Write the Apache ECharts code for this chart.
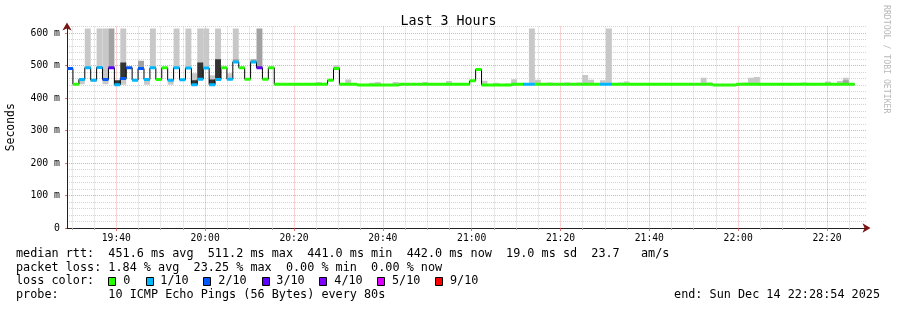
<!DOCTYPE html>
<html><head><meta charset="utf-8">
<script src="https://cdn.jsdelivr.net/npm/echarts@6/dist/echarts.min.js"></script>
<style>html,body{margin:0;padding:0;background:#fff}#c{width:897px;height:310px}</style>
</head><body><div id="c"></div>
<script>
// ---------------- data ----------------
const chartTitle = 'Last 3 Hours';
const yAxisName = 'Seconds';
const startTime = [2025, 11, 14, 19, 28, 54];   // local time, month index 11 = Dec
const stepSeconds = 80;
const spanHours = 3;

// median RTT per 80 s step (ms)
const medianMs = [
  491,442,457,493,455,494,457,493,441,460,
  493,455,491,457,493,457,493,455,493,456,
  492,441,458,492,441,457,493,458,511,493,
  458,511,493,458,493,442,442,442,442,442,
  442,442,442,442,455,491,442,442,442,440,
  440,440,440,440,440,440,442,442,442,442,
  442,442,442,442,442,442,442,442,453,488,
  440,440,440,440,440,442,442,442,442,442,
  442,442,442,442,442,442,442,442,442,442,
  442,442,442,442,442,442,442,442,442,442,
  442,442,442,442,442,442,442,442,442,440,
  440,440,440,442,442,442,442,442,442,442,
  442,442,442,442,442,442,442,442,442,442,
  442,442,442
];
// lost pings (out of 10) per step
const lossCount = [
  2,0,1,1,1,1,2,3,1,2,
  2,1,2,1,1,0,0,1,1,1,
  1,1,1,1,1,1,0,1,1,0,
  0,1,3,0,0,0,0,0,0,0,
  0,0,0,0,0,0,0,0,0,0,
  0,0,0,0,0,0,0,0,0,0,
  0,0,0,0,0,0,0,0,0,0,
  0,0,0,0,0,0,0,1,1,0,
  0,0,0,0,0,0,0,0,0,0,
  1,1,0,0,0,0,0,0,0,0,
  0,0,0,0,0,0,0,0,0,0,
  0,0,0,0,0,0,0,0,0,0,
  0,0,0,0,0,0,0,0,0,0,
  0,0,0
];
// smoke bands: [step, low ms, high ms]
const smokeLight = [
  [2,442,457],[3,493,614],[4,450,455],[5,494,614],[6,442,614],[9,441,614],
  [13,441,457],[14,493,614],[17,441,455],[18,493,614],[20,493,614],[21,441,476],
  [22,458,614],[23,492,614],[24,441,470],[25,457,614],[27,458,476],[28,510,614],
  [42,442,449],[45,491,501],[47,442,457],[51,440,447],[52,440,449],[55,440,449],
  [60,442,449],[64,442,452],[70,440,453],[72,440,447],[74,440,445],[75,442,458],
  [78,442,614],[79,442,456],[81,442,448],[84,442,448],[85,442,445],[86,442,448],
  [87,442,471],[88,442,456],[90,442,455],[91,442,614],[93,442,448],[94,442,451],
  [100,442,446],[101,442,446],[106,442,446],[107,442,462],[108,442,448],
  [113,442,446],[114,442,448],[115,442,462],[116,442,465],[121,442,446],
  [122,442,446],[124,442,448],[127,442,446],[128,442,451],[130,442,452],[131,442,462]
];
const smokeMid = [
  [7,493,614],[12,491,515],[28,510,519],[31,509,519],[32,493,614],[128,442,447],[131,442,455]
];
const smokeDark = [
  [8,442,455],[9,462,509],[21,442,455],[22,461,509],[24,442,457],[25,461,519]
];
const xTickLabels = ['19:40','20:00','20:20','20:40','21:00','21:20','21:40','22:00','22:20'];
const xMinorStepMinutes = 5;
const yTicks = [0,100,200,300,400,500,600];
const yMinorStep = 20;
const yMax = 620;
const lossLabels = ['0','1/10','2/10','3/10','4/10','5/10','9/10'];
const lossLevels = [0,1,2,3,4,5,9];
const statsLines = [
  'median rtt:  451.6 ms avg  511.2 ms max  441.0 ms min  442.0 ms now  19.0 ms sd  23.7   am/s',
  'packet loss: 1.84 % avg  23.25 % max  0.00 % min  0.00 % now',
  'loss color:',
  'probe:       10 ICMP Echo Pings (56 Bytes) every 80s'
];
const endLabel = 'end: Sun Dec 14 22:28:54 2025';
const watermark = 'RRDTOOL / TOBI OETIKER';

// ---------------- styles ----------------
const lossColors = ['#26ff00','#00b8ff','#0059ff','#5e00ff','#7e00ff','#dd00ff','#ff0000'];
const MONO = '"DejaVu Sans Mono", "Liberation Mono", monospace';
const MAJOR = 'rgba(225,80,80,0.5)';
const MINOR = 'rgba(170,170,170,0.5)';
const ARROW = '#7d1414';

const t0 = new Date(startTime[0], startTime[1], startTime[2], startTime[3], startTime[4], startTime[5]).getTime();
const stepMs = stepSeconds * 1000;
const tEnd = t0 + spanHours * 3600 * 1000;
const tAt = i => t0 + i * stepMs;
const dayStart = new Date(startTime[0], startTime[1], startTime[2]).getTime();
const hhmmToTime = s => dayStart + (parseInt(s.slice(0, 2), 10) * 60 + parseInt(s.slice(3), 10)) * 60000;
const xMajorTicks = xTickLabels.map(hhmmToTime);
const xMinorTicks = [];
for (let t = Math.ceil((t0 - dayStart) / (xMinorStepMinutes * 60000)) * xMinorStepMinutes * 60000 + dayStart; t < tEnd; t += xMinorStepMinutes * 60000) {
  if (xMajorTicks.indexOf(t) < 0) xMinorTicks.push(t);
}
const yMinorTicks = [];
for (let v = yMinorStep; v <= yMax; v += yMinorStep) if (yTicks.indexOf(v) < 0) yMinorTicks.push(v);

function lossColor(c) {
  let idx = 0;
  for (let j = 0; j < lossLevels.length; j++) if (c >= lossLevels[j]) idx = j;
  return lossColors[idx];
}

const stepLine = medianMs.map((v, i) => [tAt(i), v]);
stepLine.push([tAt(medianMs.length), medianMs[medianMs.length - 1]]);

function smokeSeries(arr, color, z) {
  return {
    type: 'custom', xAxisIndex: 0, yAxisIndex: 0, z: z, clip: true, silent: true,
    data: arr.map(s => [tAt(s[0]), s[1], s[2]]),
    encode: { x: 0, y: [1, 2] },
    renderItem: (params, api) => {
      const a = api.coord([api.value(0), api.value(2)]);
      const b = api.coord([api.value(0) + stepMs, api.value(1)]);
      return { type: 'rect', shape: { x: a[0], y: a[1], width: b[0] - a[0], height: b[1] - a[1] },
               style: { fill: color } };
    }
  };
}

const pad = n => (n < 10 ? '0' : '') + n;

const chart = echarts.init(document.getElementById('c'), null, { renderer: 'canvas' });
const graphic = [
  { type: 'text', x: 16, y: 253.8, style: { text: statsLines[0], fontFamily: MONO, fontSize: 11.8, fill: '#000', verticalAlign: 'middle' } },
  { type: 'text', x: 16, y: 267.6, style: { text: statsLines[1], fontFamily: MONO, fontSize: 11.8, fill: '#000', verticalAlign: 'middle' } },
  { type: 'text', x: 16, y: 281.4, style: { text: statsLines[2], fontFamily: MONO, fontSize: 11.8, fill: '#000', verticalAlign: 'middle' } },
  { type: 'text', x: 16, y: 295.2, style: { text: statsLines[3], fontFamily: MONO, fontSize: 11.8, fill: '#000', verticalAlign: 'middle' } },
  { type: 'text', x: 880, y: 295.2, style: { text: endLabel, fontFamily: MONO, fontSize: 11.8, fill: '#000', align: 'right', verticalAlign: 'middle' } },
  { type: 'text', x: 886, y: 5, rotation: -Math.PI / 2, style: { text: watermark, fontFamily: MONO, fontSize: 8.2, fill: '#b8b8b8', align: 'left', verticalAlign: 'middle' } }
];
const boxX = [108.5, 146.5, 203.5, 262.5, 319.5, 377.5, 435.5];
const lblX = [123.3, 160.3, 218.3, 276.3, 334.3, 392, 450];
lossLabels.forEach((l, j) => {
  graphic.push({ type: 'rect', shape: { x: boxX[j], y: 277.5, width: 7, height: 8 },
                 style: { fill: lossColors[j], stroke: '#000', lineWidth: 1 } });
  graphic.push({ type: 'text', x: lblX[j], y: 281.4, style: { text: l, fontFamily: MONO, fontSize: 11.8, fill: '#000', verticalAlign: 'middle' } });
});

chart.setOption({
  animation: false,
  backgroundColor: '#fff',
  title: { text: chartTitle, left: 'center', top: 10,
           textStyle: { fontFamily: MONO, fontSize: 13.3, fontWeight: 'normal', color: '#000' } },
  grid: { left: 67, right: 30.5, top: 26.5, bottom: 82, containLabel: false, outerBoundsMode: 'none' },
  xAxis: [
    { type: 'value', min: t0, max: tEnd, position: 'bottom',
      axisLine: { show: true, symbol: ['none', 'arrow'], symbolSize: [7, 8], symbolOffset: [0, 4], lineStyle: { color: ARROW, width: 1 } },
      axisTick: { show: true, length: 2, customValues: xMinorTicks, lineStyle: { color: '#aaa' } },
      axisLabel: { show: false },
      splitLine: { show: true, lineStyle: { color: MINOR, type: [1, 1], width: 1 } } },
    { type: 'value', min: t0, max: tEnd, position: 'bottom',
      axisLine: { show: true, lineStyle: { color: '#222', width: 1 } },
      axisTick: { show: true, length: 3, customValues: xMajorTicks, lineStyle: { color: 'rgba(225,80,80,0.8)' } },
      axisLabel: { customValues: xMajorTicks, fontFamily: MONO, fontSize: 9.7, color: '#000', margin: 5,
        formatter: v => { const d = new Date(v); return pad(d.getHours()) + ':' + pad(d.getMinutes()); } },
      splitLine: { show: true, lineStyle: { color: MAJOR, type: [1, 1], width: 1 } } }
  ],
  yAxis: [
    { type: 'value', min: 0, max: yMax, position: 'left',
      axisLine: { show: true, symbol: ['none', 'arrow'], symbolSize: [7, 8], symbolOffset: [0, 4], lineStyle: { color: ARROW, width: 1 } },
      axisTick: { show: false, customValues: yMinorTicks }, axisLabel: { show: false },
      splitLine: { show: true, lineStyle: { color: MINOR, type: [1, 1], width: 1 } } },
    { type: 'value', min: 0, max: yMax, position: 'left',
      name: yAxisName, nameLocation: 'middle', nameGap: 50, nameRotate: 90,
      nameTextStyle: { fontFamily: MONO, fontSize: 11.4, color: '#000' },
      axisLine: { show: true, lineStyle: { color: '#222', width: 1 } },
      axisTick: { show: true, length: 2, customValues: yTicks, lineStyle: { color: 'rgba(225,80,80,0.8)' } },
      axisLabel: { customValues: yTicks, fontFamily: MONO, fontSize: 9.8, color: '#000', margin: 7,
        formatter: v => (v === 0 ? '0' : v + ' m') },
      splitLine: { show: true, showMinLine: false, lineStyle: { color: MAJOR, type: [1, 1], width: 1 } } }
  ],
  series: [
    smokeSeries(smokeLight, '#c8c8c8', 1),
    smokeSeries(smokeMid, '#a2a2a2', 2),
    smokeSeries(smokeDark, '#333333', 3),
    { type: 'line', xAxisIndex: 0, yAxisIndex: 0, step: 'end', data: stepLine, z: 4,
      symbol: 'none', silent: true, lineStyle: { color: '#000', width: 1 } },
    { type: 'custom', xAxisIndex: 0, yAxisIndex: 0, z: 5, clip: true, silent: true,
      data: medianMs.map((v, i) => [tAt(i), v, lossCount[i]]),
      encode: { x: 0, y: 1 },
      renderItem: (params, api) => {
        const a = api.coord([api.value(0), api.value(1)]);
        const b = api.coord([api.value(0) + stepMs, api.value(1)]);
        return { type: 'rect', shape: { x: a[0], y: a[1] - 1.5, width: b[0] - a[0], height: 3 },
                 style: { fill: lossColor(api.value(2)) } };
      } }
  ],
  graphic: graphic
});
</script>
</body></html>
